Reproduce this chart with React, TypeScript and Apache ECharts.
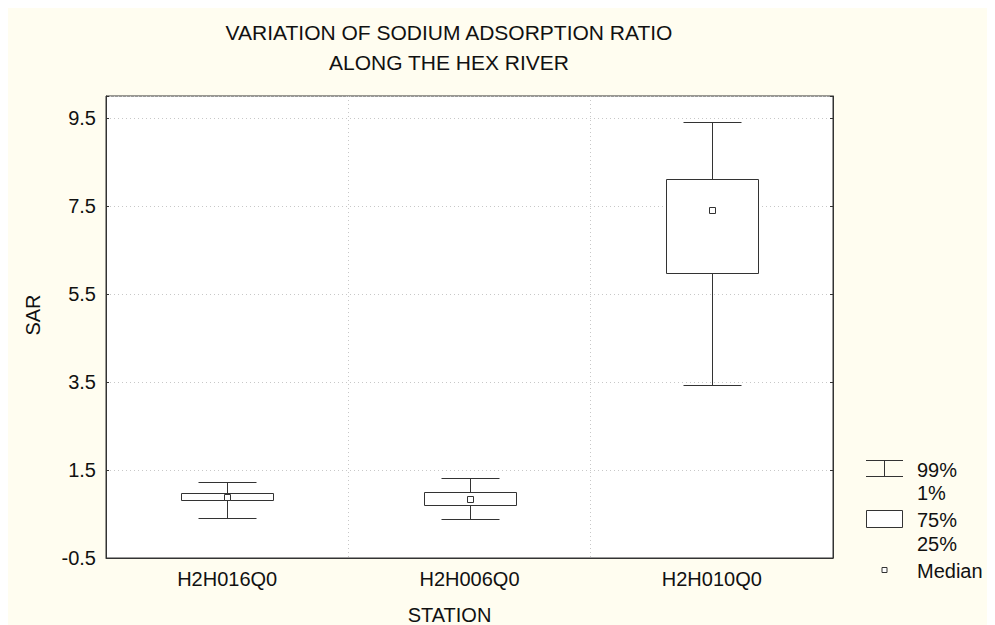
import React, { useEffect, useRef } from "react";
import * as echarts from "echarts";

const stations = ["H2H016Q0", "H2H006Q0", "H2H010Q0"];
const whiskerLow = [0.4, 0.385, 3.43];
const quart1 = [0.823, 0.7, 5.97];
const medians = [0.89, 0.84, 7.4];
const quart3 = [0.975, 0.99, 8.115];
const whiskerHigh = [1.225, 1.31, 9.42];
const yTickLabels = ["-0.5", "1.5", "3.5", "5.5", "7.5", "9.5"];
const titleLines = ["VARIATION OF SODIUM ADSORPTION RATIO", "ALONG THE HEX RIVER"];
const legendLabels = ["99%", "1%", "75%", "25%", "Median"];

const FONT = '"Liberation Sans", Arial, sans-serif';
const BG = "#fffdf0";
const LINE = "#333333";

export default function App() {
  const ref = useRef<HTMLDivElement>(null);
  useEffect(() => {
    if (!ref.current) return;
    const chart = echarts.init(ref.current, null, { renderer: "svg" });
    const data = stations.map((_, i) => [
      i,
      whiskerLow[i],
      quart1[i],
      medians[i],
      quart3[i],
      whiskerHigh[i],
    ]);
    const r = (v: number) => Math.round(v) + 0.5;
    const txt = (text: string, x: number, y: number, extra: any = {}) => ({
      type: "text",
      x,
      y,
      silent: true,
      style: {
        text,
        fill: "#111",
        font: `20px ${FONT}`,
        textAlign: "left",
        textVerticalAlign: "middle",
        ...extra,
      },
    });
    const option: any = {
      animation: false,
      backgroundColor: BG,
      grid: {
        left: 98,
        top: 88,
        right: 162,
        bottom: 67,
        show: true,
        backgroundColor: "#ffffff",
        borderColor: LINE,
        borderWidth: 1,
      },
      xAxis: {
        type: "category",
        data: stations,
        boundaryGap: true,
        axisLine: { show: true, onZero: false, lineStyle: { color: LINE } },
        axisTick: { show: false },
        axisLabel: {
          color: "#111",
          fontSize: 20,
          fontFamily: FONT,
          margin: 11,
        },
        splitLine: {
          show: true,
          lineStyle: { color: "#c8c8c8", type: [1, 3] },
        },
      },
      yAxis: [
        {
          type: "value",
          min: -0.5,
          max: 10,
          interval: 2,
          axisLine: { show: true, lineStyle: { color: LINE } },
          axisTick: { show: true, inside: true, length: 3, lineStyle: { color: LINE } },
          axisLabel: {
            color: "#111",
            fontSize: 20,
            fontFamily: FONT,
            margin: 10,
            formatter: (v: number) => {
              const s = v.toFixed(1);
              return yTickLabels.indexOf(s) >= 0 ? s : "";
            },
          },
          splitLine: {
            show: true,
            lineStyle: { color: "#c8c8c8", type: [1, 3] },
          },
        },
        {
          type: "value",
          position: "right",
          min: -0.5,
          max: 10,
          interval: 2,
          axisLine: { show: true, lineStyle: { color: LINE } },
          axisTick: { show: true, inside: true, length: 3, lineStyle: { color: LINE } },
          axisLabel: { show: false },
          splitLine: { show: false },
        },
      ],
      series: [
        {
          type: "custom",
          data,
          encode: { x: 0, y: [1, 2, 3, 4, 5] },
          renderItem: (params: any, api: any) => {
            const idx = api.value(0);
            const lo = api.coord([idx, api.value(1)]);
            const q1 = api.coord([idx, api.value(2)]);
            const md = api.coord([idx, api.value(3)]);
            const q3 = api.coord([idx, api.value(4)]);
            const hi = api.coord([idx, api.value(5)]);
            const cx = r(lo[0]);
            const bw = 92;
            const cw = 58;
            const ls = { stroke: LINE, lineWidth: 1 };
            return {
              type: "group",
              children: [
                { type: "line", shape: { x1: cx, y1: r(lo[1]), x2: cx, y2: r(hi[1]) }, style: ls },
                { type: "line", shape: { x1: cx - cw / 2, y1: r(lo[1]), x2: cx + cw / 2, y2: r(lo[1]) }, style: ls },
                { type: "line", shape: { x1: cx - cw / 2, y1: r(hi[1]), x2: cx + cw / 2, y2: r(hi[1]) }, style: ls },
                {
                  type: "rect",
                  shape: { x: cx - bw / 2, y: r(q3[1]), width: bw, height: r(q1[1]) - r(q3[1]) },
                  style: { fill: "#ffffff", stroke: LINE, lineWidth: 1 },
                },
                {
                  type: "rect",
                  shape: { x: cx - 3, y: r(md[1]) - 3, width: 6, height: 6 },
                  style: { fill: "#ffffff", stroke: LINE, lineWidth: 1 },
                },
              ],
            };
          },
        },
      ],
      graphic: [
        txt(titleLines[0], 449 - 8, 24.5, { textAlign: "center", font: `21px ${FONT}` }),
        txt(titleLines[1], 449 - 8, 54.5, { textAlign: "center", font: `21px ${FONT}` }),
        txt("STATION", 441.5, 607, { textAlign: "center" }),
        {
          type: "text",
          x: 24.5,
          y: 307,
          rotation: Math.PI / 2,
          silent: true,
          style: {
            text: "SAR",
            fill: "#111",
            font: `20px ${FONT}`,
            textAlign: "center",
            textVerticalAlign: "middle",
          },
        },
        // legend: whisker icon
        { type: "line", shape: { x1: 858, y1: 452.5, x2: 895, y2: 452.5 }, style: { stroke: LINE, lineWidth: 1 } },
        { type: "line", shape: { x1: 876.5, y1: 452.5, x2: 876.5, y2: 468.5 }, style: { stroke: LINE, lineWidth: 1 } },
        { type: "line", shape: { x1: 858, y1: 468.5, x2: 895, y2: 468.5 }, style: { stroke: LINE, lineWidth: 1 } },
        txt(legendLabels[0], 909, 461.5),
        txt(legendLabels[1], 909, 485),
        // legend: box icon
        {
          type: "rect",
          shape: { x: 858.5, y: 502.5, width: 36, height: 17 },
          style: { fill: "#ffffff", stroke: LINE, lineWidth: 1 },
        },
        txt(legendLabels[2], 909, 512),
        txt(legendLabels[3], 909, 535.5),
        // legend: median
        {
          type: "rect",
          shape: { x: 874, y: 559.5, width: 5, height: 5 },
          style: { fill: "#ffffff", stroke: LINE, lineWidth: 1 },
        },
        txt(legendLabels[4], 909, 562.5),
      ],
    };
    chart.setOption(option);
    return () => chart.dispose();
  }, []);
  return <div ref={ref} style={{ width: 987, height: 617, background: BG }} />;
}
